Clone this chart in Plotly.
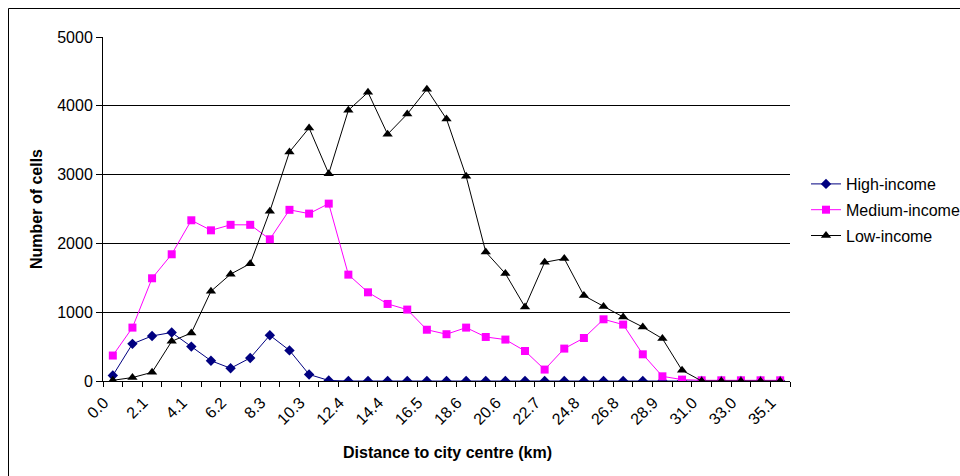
import plotly.graph_objects as go

categories = ["0.0", "1.0", "2.1", "3.1", "4.1", "5.2", "6.2", "7.2", "8.3", "9.3",
              "10.3", "11.4", "12.4", "13.4", "14.4", "15.5", "16.5", "17.5", "18.6", "19.6",
              "20.6", "21.7", "22.7", "23.7", "24.8", "25.8", "26.8", "27.9", "28.9", "29.9",
              "31.0", "32.0", "33.0", "34.0", "35.1"]

high_income = [80, 540, 655, 705, 500, 295, 185, 335, 665, 445,
               95, 8, 0, 0, 0, 0, 0, 0, 0, 0,
               0, 0, 0, 0, 0, 0, 0, 0, 0, 0,
               0, 0, 0, 0, 0]

medium_income = [370, 776, 1493, 1842, 2336, 2190, 2270, 2270, 2060, 2488,
                 2433, 2578, 1546, 1289, 1120, 1038, 745, 680, 776, 640,
                 602, 436, 166, 471, 625, 897, 820, 388, 68, 20,
                 10, 10, 10, 10, 10]

low_income = [10, 50, 126, 577, 698, 1304, 1553, 1706, 2467, 3329,
              3678, 3014, 3935, 4196, 3586, 3880, 4240, 3808, 2975, 1875,
              1561, 1076, 1725, 1779, 1241, 1082, 930, 785, 616, 156,
              0, 0, 0, 0, 0]

tick_labels = [c if i % 2 == 0 else "" for i, c in enumerate(categories)]

FONT = "Liberation Sans, Arial, sans-serif"
FS = 16

fig = go.Figure()
fig.add_trace(go.Scatter(x=categories, y=high_income, name="High-income", mode="lines+markers",
                         line=dict(color="#000080", width=1),
                         marker=dict(symbol="diamond", size=8, color="#000080"),
                         legendgroup="h"))
fig.add_trace(go.Scatter(x=categories, y=medium_income, name="Medium-income", mode="lines+markers",
                         line=dict(color="#FF00FF", width=1),
                         marker=dict(symbol="square", size=8, color="#FF00FF"),
                         legendgroup="m"))
fig.add_trace(go.Scatter(x=categories, y=low_income, name="Low-income", mode="lines+markers",
                         line=dict(color="#000000", width=1),
                         marker=dict(symbol="triangle-up", size=9, color="#000000"),
                         legendgroup="l"))

L, R, T, B = 103, 170, 37, 95
W, H = 960, 476
pw, ph = W - L - R, H - T - B

def px_x(x):
    return (x - L) / pw

def px_y(y):
    return (H - B - y) / ph

fig.update_layout(
    width=W, height=H,
    margin=dict(l=L, r=R, t=T, b=B, autoexpand=False),
    paper_bgcolor="white", plot_bgcolor="white",
    font=dict(family=FONT, size=FS, color="black"),
    showlegend=True,
    legend=dict(x=px_x(806), y=px_y(167), xanchor="left", yanchor="top",
                font=dict(size=FS), tracegroupgap=2, bgcolor="rgba(0,0,0,0)"),
    xaxis=dict(type="category", categoryorder="array", categoryarray=categories,
               range=[-0.5, len(categories) - 0.5],
               tickmode="array", tickvals=categories, ticktext=tick_labels,
               tickson="boundaries", ticks="outside", ticklen=5, tickcolor="black",
               tickangle=-45, ticklabelshift=-9, ticklabelstandoff=5,
               showgrid=False, showline=True, linecolor="black", linewidth=1,
               zeroline=False, tickfont=dict(size=FS)),
    yaxis=dict(range=[0, 5000], dtick=1000, ticks="outside", ticklen=6, tickcolor="black",
               showline=True, linecolor="black", linewidth=1,
               showgrid=True, gridcolor="black", gridwidth=1, zeroline=False,
               tickfont=dict(size=FS),
               title=dict(text="<b>Number of cells</b>", font=dict(size=FS), standoff=10)),
    annotations=[dict(text="<b>Distance to city centre (km)</b>", xref="paper", yref="paper",
                      x=px_x(447), y=px_y(452), xanchor="center", yanchor="middle",
                      showarrow=False, font=dict(size=FS))],
    shapes=[dict(type="rect", xref="paper", yref="paper",
                 x0=px_x(8.5), y0=px_y(490), x1=px_x(975), y1=px_y(8.5),
                 line=dict(color="black", width=1), fillcolor="rgba(0,0,0,0)", layer="below")],
)

fig.write_html("out.html", config={"displayModeBar": False},
               post_script="document.body.style.margin='0';document.body.style.overflow='hidden';")
